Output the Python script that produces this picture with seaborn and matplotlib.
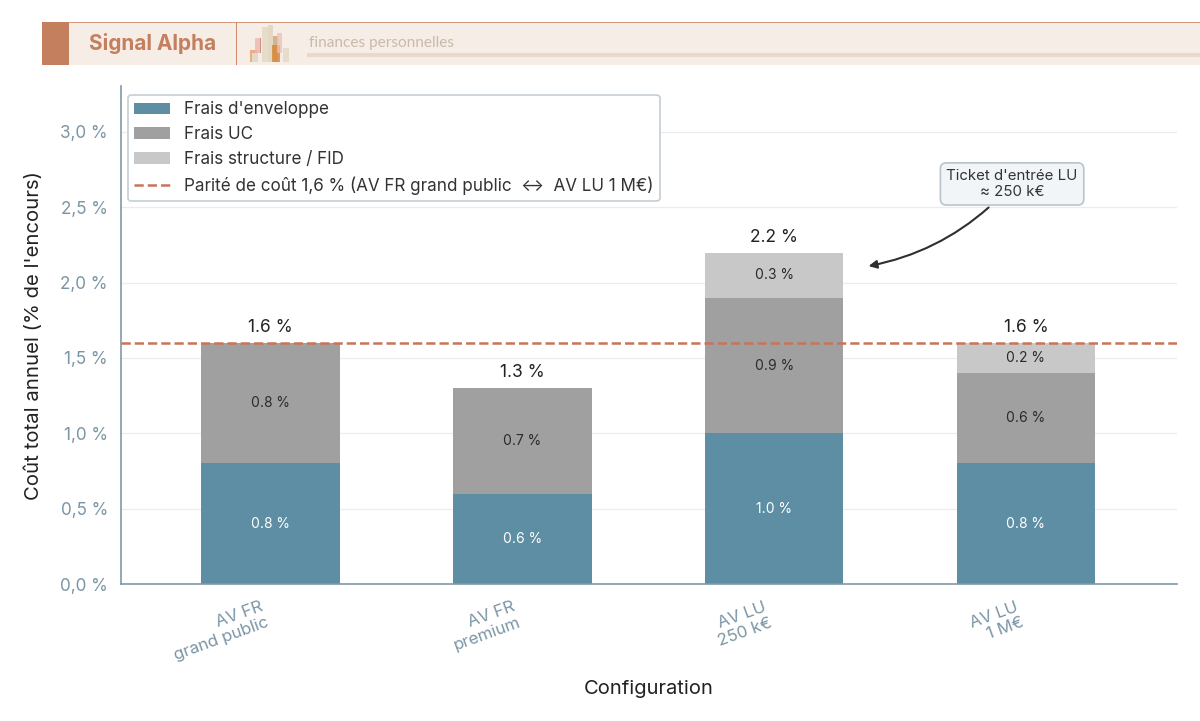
import matplotlib
matplotlib.use("Agg")
import matplotlib.pyplot as plt
from matplotlib.patches import Rectangle
from matplotlib.ticker import FuncFormatter
import pandas as pd
import seaborn as sns

configurations = ["AV FR\ngrand public", "AV FR\npremium", "AV LU\n250 k€", "AV LU\n1 M€"]
frais_enveloppe = [0.8, 0.6, 1.0, 0.8]
frais_uc = [0.8, 0.7, 0.9, 0.6]
frais_structure = [0.0, 0.0, 0.3, 0.2]
totaux = [1.6, 1.3, 2.2, 1.6]
parite = 1.6
y_ticks = [0.0, 0.5, 1.0, 1.5, 2.0, 2.5, 3.0]

# Petit pictogramme du bandeau : x0, x1, haut, bas (pixels), couleur, opacité
picto = [
    (250, 258, 50, 62, "#e8a878", 0.9), (252, 258, 53, 62, "#e2dccf", 0.95),
    (255, 261, 38, 53, "#eab8ae", 0.8), (260, 261, 38, 53, "#c9736a", 0.7),
    (262, 268, 27, 62, "#e6dccb", 0.95), (268, 273, 25, 62, "#e3d6c2", 0.95),
    (273, 278, 36, 62, "#c9a878", 0.8), (272, 280, 45, 62, "#d98a3c", 0.85),
    (277, 282, 33, 53, "#ecc0b6", 0.75), (283, 289, 48, 62, "#e6dccb", 0.95),
]

sns.set_theme(style="white")
plt.rcParams["font.family"] = ["Inter", "DejaVu Sans"]

W, H = 1200, 721
fig = plt.figure(figsize=(W / 100, H / 100), dpi=100, facecolor="white")
ax = fig.add_axes([121 / W, 1 - 584 / H, (1177 - 121) / W, (584 - 86) / H])

df = pd.DataFrame({
    "config": configurations,
    "enveloppe": frais_enveloppe,
    "uc": frais_uc,
    "structure": frais_structure,
})
bas_uc = df["enveloppe"]
bas_structure = df["enveloppe"] + df["uc"]

c_env, c_uc, c_str = "#5d8ea3", "#a0a0a0", "#c8c8c8"
commun = dict(data=df, x="config", saturation=1, width=0.55, ax=ax, zorder=2, linewidth=0)
sns.barplot(y="enveloppe", color=c_env, label="Frais d'enveloppe", **commun)
sns.barplot(y="uc", bottom=bas_uc, color=c_uc, label="Frais UC", **commun)
sns.barplot(y="structure", bottom=bas_structure, color=c_str, label="Frais structure / FID", **commun)
ax.axhline(parite, color="#c8745a", ls="--", lw=1.8, zorder=3,
           label="Parité de coût 1,6 % (AV FR grand public  ↔  AV LU 1 M€)")

ax.set_xlim(-0.594, 3.6)
ax.set_ylim(0, 3.305)

# Valeurs dans les segments et totaux au-dessus
for i in range(len(configurations)):
    ax.text(i, frais_enveloppe[i] / 2, f"{frais_enveloppe[i]:.1f} %", ha="center", va="center",
            fontsize=10, color="white", zorder=4)
    ax.text(i, frais_enveloppe[i] + frais_uc[i] / 2, f"{frais_uc[i]:.1f} %", ha="center", va="center",
            fontsize=10, color="#2b2b2b", zorder=4)
    if frais_structure[i] > 0:
        ax.text(i, frais_enveloppe[i] + frais_uc[i] + frais_structure[i] / 2,
                f"{frais_structure[i]:.1f} %", ha="center", va="center",
                fontsize=10, color="#2b2b2b", zorder=4)
    ax.text(i, totaux[i] + 0.045, f"{totaux[i]:.1f} %", ha="center", va="bottom",
            fontsize=12.5, color="#222222", zorder=4)

ax.set_yticks(y_ticks)
ax.yaxis.set_major_formatter(FuncFormatter(lambda v, _: f"{v:.1f} %".replace(".", ",")))
ax.tick_params(axis="y", labelsize=12.3, labelcolor="#7b95a5", length=0, pad=9.5)
ax.tick_params(axis="x", labelsize=12.2, labelcolor="#7b95a5", length=0, pad=11)
for lab in ax.get_xticklabels():
    lab.set_rotation(20)
    lab.set_ha("right")
    lab.set_linespacing(1.15)

ax.grid(axis="y", color="#ececec", lw=0.9, zorder=0)
ax.set_axisbelow(True)
for side in ("top", "right"):
    ax.spines[side].set_visible(False)
for side in ("left", "bottom"):
    ax.spines[side].set_color("#7f99a9")
    ax.spines[side].set_linewidth(1.2)

ax.set_xlabel("Configuration", fontsize=14.5, color="#222222", labelpad=12)
ax.set_ylabel("Coût total annuel (% de l'encours)", fontsize=14.6, color="#222222", labelpad=12)

handles, labels = ax.get_legend_handles_labels()
ordre = sorted(range(len(labels)), key=lambda k: labels[k].startswith("Parité"))
leg = ax.legend([handles[k] for k in ordre], [labels[k] for k in ordre],
                loc="upper left", bbox_to_anchor=(7 / 1056, 1 - 9 / 498), fontsize=12.3, frameon=True,
                fancybox=True, framealpha=1, edgecolor="#c5ced4", borderaxespad=0, borderpad=0.38,
                labelspacing=0.46, handlelength=2.05, handletextpad=0.82, labelcolor="#333333")
leg.get_frame().set_linewidth(1.2)
leg.set_zorder(6)

ax.annotate("Ticket d'entrée LU\n≈ 250 k€", xy=(2.375, 2.11), xytext=(2.945, 2.655),
            ha="center", va="center", fontsize=10.8, color="#333333", linespacing=1.2, zorder=7,
            bbox=dict(boxstyle="round,pad=0.4,rounding_size=0.4", fc="#f1f5f8", ec="#b8c4cc", lw=1.2),
            arrowprops=dict(arrowstyle="-|>", color="#2f2f2f", lw=1.5, mutation_scale=12,
                            connectionstyle="arc3,rad=-0.17", shrinkA=2, shrinkB=0))


def px_rect(x0, y0, x1, y1, **kw):
    fig.add_artist(Rectangle((x0 / W, 1 - y1 / H), (x1 - x0) / W, (y1 - y0) / H,
                             transform=fig.transFigure, lw=0, **kw))


# Bandeau de marque en haut de la figure
px_rect(42, 22, 1200, 64.5, color="#f6ede7")
px_rect(42, 21.5, 1200, 22.5, color="#d49a80")
px_rect(42, 22, 69, 64.5, color="#c47f5e")
px_rect(236, 22, 237, 64.5, color="#cf8a6c")
px_rect(307, 53, 1200, 57, color="#e7d9cb")
for x0, x1, haut, bas, col, a in picto:
    px_rect(x0, haut, x1, bas, color=col, alpha=a)
fig.text(89 / W, 1 - 43.5 / H, "Signal Alpha", fontsize=15, fontweight="bold", color="#c47f5e",
         family="Inter", va="center", ha="left")
fig.text(309 / W, 1 - 43 / H, "finances personnelles", fontsize=11.1, color="#c9bba8",
         family="Lato", va="center", ha="left")

fig.savefig("out.png", dpi=100, facecolor="white")
